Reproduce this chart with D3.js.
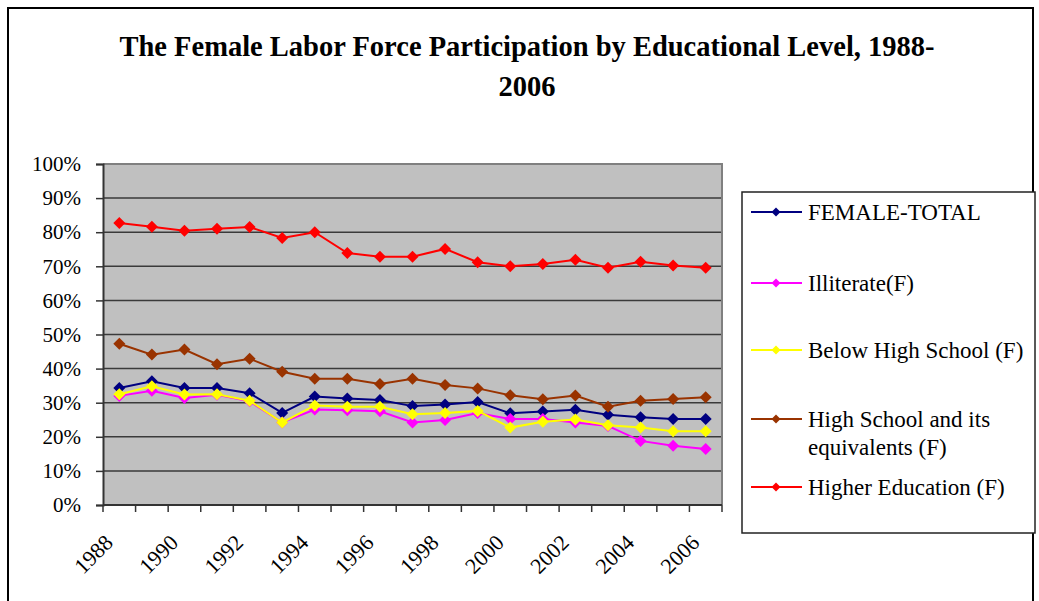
<!DOCTYPE html>
<html>
<head>
<meta charset="utf-8">
<script src="https://cdn.jsdelivr.net/npm/d3@7"></script>
<style>
  body { margin: 0; background: #fff; }
  text { font-family: "Liberation Serif", "Times New Roman", serif; fill: #000; }
</style>
</head>
<body>
<div id="chart"></div>
<script>
// Data (share of women in the labour force)
const years = d3.range(1988, 2007);
const femaleTotal = [34.3, 36.3, 34.3, 34.3, 32.8, 27.0, 31.8, 31.2, 30.8, 29.0, 29.5, 30.2, 26.9, 27.4, 27.9, 26.5, 25.7, 25.2, 25.2];
const illiterate = [32.0, 33.5, 31.4, 32.3, 30.4, 24.2, 28.0, 27.8, 27.5, 24.2, 24.9, 27.0, 25.2, 25.2, 24.2, 23.2, 18.8, 17.4, 16.4];
const belowHigh = [32.5, 34.8, 32.4, 32.5, 30.6, 24.2, 29.2, 28.8, 28.8, 26.6, 27.0, 27.6, 22.7, 24.4, 25.1, 23.4, 22.7, 21.6, 21.6];
const highSchool = [47.3, 44.1, 45.6, 41.3, 42.9, 39.1, 37.0, 37.0, 35.5, 37.0, 35.2, 34.2, 32.2, 31.0, 32.1, 28.8, 30.6, 31.1, 31.6];
const higherEdu = [82.7, 81.6, 80.4, 81.0, 81.5, 78.3, 80.0, 73.9, 72.8, 72.8, 75.1, 71.2, 70.0, 70.7, 71.9, 69.6, 71.3, 70.2, 69.6];

const seriesNames = ["FEMALE-TOTAL", "Illiterate(F)", "Below High School (F)", "High School and its equivalents (F)", "Higher Education (F)"];
const seriesColors = ["#000080", "#FF00FF", "#FFFF00", "#993300", "#FF0000"];
const seriesValues = [femaleTotal, illiterate, belowHigh, highSchool, higherEdu];
const yTicks = d3.range(0, 101, 10);
const xLabelYears = years.filter(y => y % 2 === 0);

const width = 1039, height = 601;
const plot = { left: 103, right: 722, top: 164, bottom: 505 };

const svg = d3.select("#chart").append("svg")
    .attr("width", width)
    .attr("height", height);

svg.append("rect").attr("width", width).attr("height", height).attr("fill", "#fff");

// outer chart frame
svg.append("rect")
    .attr("x", 8).attr("y", 8)
    .attr("width", 1025).attr("height", 620)
    .attr("fill", "none")
    .attr("stroke", "#000")
    .attr("stroke-width", 2);

// title
const title = svg.append("text")
    .attr("text-anchor", "middle")
    .attr("font-weight", "bold")
    .attr("font-size", 28.5);
title.append("tspan").attr("x", 527).attr("y", 56).text("The Female Labor Force Participation by Educational Level, 1988-");
title.append("tspan").attr("x", 527).attr("y", 96).text("2006");

const x = d3.scaleBand().domain(years).range([plot.left, plot.right]).padding(0);
const y = d3.scaleLinear().domain([0, 100]).range([plot.bottom, plot.top]);

// plot background
svg.append("rect")
    .attr("x", plot.left).attr("y", plot.top)
    .attr("width", plot.right - plot.left)
    .attr("height", plot.bottom - plot.top)
    .attr("fill", "#C0C0C0");

// gridlines
svg.append("g")
    .selectAll("line")
    .data(yTicks.filter(t => t > 0 && t < 100))
    .enter()
    .append("line")
    .attr("x1", plot.left).attr("x2", plot.right)
    .attr("y1", d => y(d)).attr("y2", d => y(d))
    .attr("stroke", "#3a3a3a")
    .attr("stroke-width", 1.5);

// plot border (top and right)
svg.append("path")
    .attr("d", `M${plot.left},${plot.top}H${plot.right}V${plot.bottom}`)
    .attr("fill", "none")
    .attr("stroke", "#808080")
    .attr("stroke-width", 2);

// y axis
const yAxis = svg.append("g")
    .attr("transform", `translate(${plot.left},0)`)
    .call(d3.axisLeft(y).tickValues(yTicks).tickSize(7).tickPadding(15).tickFormat(d => d + "%"));
yAxis.select(".domain").attr("stroke", "#333").attr("stroke-width", 2);
yAxis.selectAll(".tick line").attr("stroke", "#333").attr("stroke-width", 1.5);
yAxis.selectAll(".tick text")
    .attr("font-family", "Liberation Serif, serif")
    .attr("font-size", 21)
    .attr("fill", "#000");

// x axis: ticks at category boundaries
const xAxis = svg.append("g");
xAxis.append("line")
    .attr("x1", plot.left).attr("x2", plot.right)
    .attr("y1", plot.bottom).attr("y2", plot.bottom)
    .attr("stroke", "#333").attr("stroke-width", 2);
xAxis.selectAll(".xtick")
    .data(years.concat([2007]))
    .enter()
    .append("line")
    .attr("class", "xtick")
    .attr("x1", d => d === 2007 ? plot.right : x(d))
    .attr("x2", d => d === 2007 ? plot.right : x(d))
    .attr("y1", plot.bottom).attr("y2", plot.bottom + 7)
    .attr("stroke", "#333").attr("stroke-width", 1.5);
xAxis.selectAll(".xlabel")
    .data(xLabelYears)
    .enter()
    .append("text")
    .attr("class", "xlabel")
    .attr("text-anchor", "end")
    .attr("font-size", 22)
    .attr("transform", d => `translate(${x(d) + x.bandwidth() / 2 - 5},${plot.bottom + 39}) rotate(-45)`)
    .text(d => d);

// series lines and markers
const line = d3.line()
    .x((d, i) => x(years[i]) + x.bandwidth() / 2)
    .y(d => y(d));

const diamond = r => `M0,${-r}L${r},0L0,${r}L${-r},0Z`;

seriesValues.forEach((vals, s) => {
    const g = svg.append("g");
    g.append("path")
        .attr("d", line(vals))
        .attr("fill", "none")
        .attr("stroke", seriesColors[s])
        .attr("stroke-width", 2);
    g.selectAll("path.marker")
        .data(vals)
        .enter()
        .append("path")
        .attr("class", "marker")
        .attr("d", diamond(6))
        .attr("transform", (d, i) => `translate(${x(years[i]) + x.bandwidth() / 2},${y(d)})`)
        .attr("fill", seriesColors[s]);
});

// legend
const legend = svg.append("g");
legend.append("rect")
    .attr("x", 742).attr("y", 192)
    .attr("width", 293).attr("height", 341)
    .attr("fill", "#fff")
    .attr("stroke", "#222")
    .attr("stroke-width", 1.5);

const legendRows = [212, 283, 350, 419, 487];
const legendLines = [["FEMALE-TOTAL"], ["Illiterate(F)"], ["Below High School (F)"], ["High School and its", "equivalents (F)"], ["Higher Education (F)"]];

legendRows.forEach((ry, s) => {
    legend.append("line")
        .attr("x1", 751).attr("x2", 802)
        .attr("y1", ry).attr("y2", ry)
        .attr("stroke", seriesColors[s])
        .attr("stroke-width", 2);
    legend.append("path")
        .attr("d", diamond(4.5))
        .attr("transform", `translate(776,${ry})`)
        .attr("fill", seriesColors[s]);
    const t = legend.append("text")
        .attr("font-size", 23);
    legendLines[s].forEach((ln, k) => {
        t.append("tspan")
            .attr("x", 808)
            .attr("y", ry + 8 + k * 28)
            .text(ln);
    });
});
</script>
</body>
</html>
